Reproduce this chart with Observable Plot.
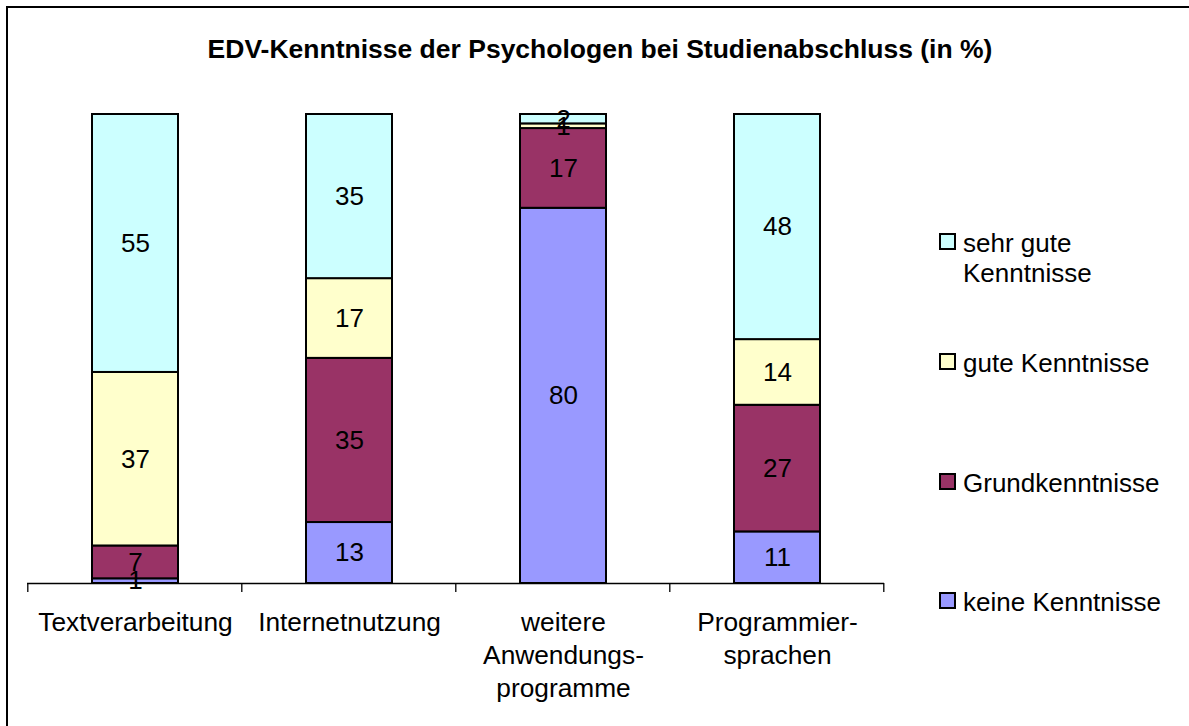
<!DOCTYPE html>
<html>
<head>
<meta charset="utf-8">
<script src="https://cdn.jsdelivr.net/npm/d3@7"></script>
<script src="https://cdn.jsdelivr.net/npm/@observablehq/plot@0.6"></script>
<style>
  html, body { margin: 0; padding: 0; background: #fff; }
  #page { position: relative; width: 1189px; height: 726px; overflow: hidden; font-family: "Liberation Sans", Arial, sans-serif; color: #000; }
  #frame { position: absolute; left: 6px; top: 6px; width: 1400px; height: 900px; border: 2px solid #000; box-sizing: border-box; }
  #title { position: absolute; left: 0; top: 34px; width: 1200px; text-align: center; font-weight: bold; font-size: 26.5px; line-height: 30px; white-space: nowrap; }
  #chart { position: absolute; left: 0; top: 90px; }
  .lg { position: absolute; left: 939px; font-size: 26px; line-height: 30px; }
  .lg .sw { position: absolute; left: 0; width: 17px; height: 17px; border: 2px solid #000; box-sizing: border-box; }
  .lg .tx { position: absolute; left: 24px; white-space: nowrap; }
</style>
</head>
<body>
<div id="page">
  <div id="frame"></div>
  <div id="title">EDV-Kenntnisse der Psychologen bei Studienabschluss (in %)</div>
  <div id="chart"></div>
  <div id="legend"></div>
</div>
<script>
// ---- data ----
const categories = ["Textverarbeitung", "Internetnutzung", "weitere Anwendungsprogramme", "Programmiersprachen"];
const categoryLabels = ["Textverarbeitung", "Internetnutzung", "weitere\nAnwendungs-\nprogramme", "Programmier-\nsprachen"];
const series = ["keine Kenntnisse", "Grundkenntnisse", "gute Kenntnisse", "sehr gute Kenntnisse"];
const legendLabels = ["keine Kenntnisse", "Grundkenntnisse", "gute Kenntnisse", "sehr gute\nKenntnisse"];
const keineKenntnisse = [1, 13, 80, 11];
const grundkenntnisse = [7, 35, 17, 27];
const guteKenntnisse = [37, 17, 1, 14];
const sehrGuteKenntnisse = [55, 35, 2, 48];
const colors = ["#9999FF", "#993366", "#FFFFCC", "#CCFFFF"];

const valuesBySeries = [keineKenntnisse, grundkenntnisse, guteKenntnisse, sehrGuteKenntnisse];
const table = [];
series.forEach((s, si) => categories.forEach((c, ci) => table.push({category: c, series: s, value: valuesBySeries[si][ci]})));
const labelMap = new Map(categories.map((c, i) => [c, categoryLabels[i]]));

const paddingInner = 0.6;

// boundary ticks between categories, computed from the band scale
function boundaryTicks(index, scales, values, dimensions) {
  const x = scales.x;
  const step = x(categories[1]) - x(categories[0]);
  const bw = step * (1 - paddingInner);
  const y0 = scales.y(0);
  const g = d3.create("svg:g");
  const bounds = categories.map(c => x(c) + bw / 2 - step / 2);
  bounds.push(x(categories[categories.length - 1]) + bw / 2 + step / 2);
  for (const b of bounds) {
    g.append("line").attr("x1", b).attr("x2", b).attr("y1", y0).attr("y2", y0 + 9)
      .attr("stroke", "#000").attr("stroke-width", 1.3);
  }
  return g.node();
}

const chart = Plot.plot({
  width: 900,
  height: 636,
  marginLeft: 27,
  marginRight: 16,
  marginTop: 24,
  marginBottom: 143,
  style: {fontFamily: "'Liberation Sans', Arial, sans-serif", background: "transparent", color: "#000", overflow: "visible"},
  x: {domain: categories, paddingInner: paddingInner, paddingOuter: paddingInner / 2, label: null},
  y: {domain: [0, 100], axis: null},
  color: {domain: series, range: colors},
  marks: [
    Plot.barY(table, {x: "category", y: "value", fill: "series", order: series, stroke: "#000", strokeWidth: 2}),
    Plot.ruleY([0], {stroke: "#000", strokeWidth: 1.3}),
    boundaryTicks,
    Plot.text(table, Plot.stackY({x: "category", y: "value", z: "series", order: series, text: d => String(d.value), fontSize: 26, fill: "#000"})),
    Plot.axisX({tickSize: 0, tickPadding: 24, fontSize: 26.3, lineHeight: 1.25, fill: "#000", tickFormat: d => labelMap.get(d), label: null})
  ]
});
document.getElementById("chart").appendChild(chart);

// legend (top to bottom: reverse stacking order)
const legendTops = [592, 473, 353, 233]; // swatch tops, per series index
const legend = document.getElementById("legend");
series.forEach((s, i) => {
  const item = document.createElement("div");
  item.className = "lg";
  item.style.top = (legendTops[i] - 5) + "px";
  const sw = document.createElement("div");
  sw.className = "sw";
  sw.style.top = "5px";
  sw.style.background = colors[i];
  const tx = document.createElement("div");
  tx.className = "tx";
  tx.style.top = "0px";
  tx.innerHTML = legendLabels[i].split("\n").join("<br>");
  item.appendChild(sw);
  item.appendChild(tx);
  legend.appendChild(item);
});
</script>
</body>
</html>
